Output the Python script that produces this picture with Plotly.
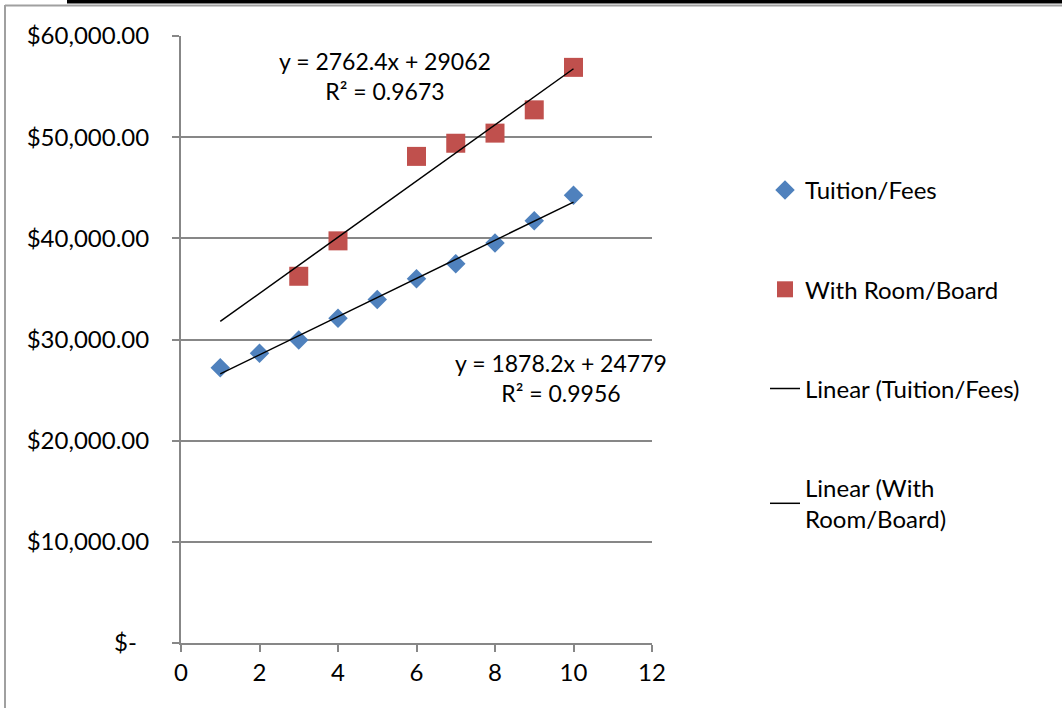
import numpy as np
import plotly.graph_objects as go

# ---- data ----
tuition_x = [1, 2, 3, 4, 5, 6, 7, 8, 9, 10]
tuition_y = [27200, 28650, 29950, 32100, 33950, 36000, 37500, 39550, 41750, 44250]
room_x = [3, 4, 6, 7, 8, 9, 10]
room_y = [36250, 39750, 48100, 49400, 50400, 52700, 56900]
trend_x = [1, 10]
eq_room = ["y = 2762.4x + 29062", "R² = 0.9673"]
eq_tuition = ["y = 1878.2x + 24779", "R² = 0.9956"]
y_tickvals = [0, 10000, 20000, 30000, 40000, 50000, 60000]
y_ticktext = ["$-\u00a0\u00a0", "$10,000.00", "$20,000.00", "$30,000.00",
              "$40,000.00", "$50,000.00", "$60,000.00"]
x_tickvals = [0, 2, 4, 6, 8, 10, 12]

W, H = 1062, 708
ML, MR, MT, MB = 181, 410, 36, 65
FONT = "Lato"
FS = 24
BLUE = "#4F81BD"
RED = "#C0504D"
GRID = "#878787"

def fit_line(xs, ys):
    k, b = np.polyfit(xs, ys, 1)
    return [k * x + b for x in trend_x]

def px_x(p):
    return (p - ML) / (W - ML - MR)

def px_y(p):
    return (H - MB - p) / (H - MT - MB)

fig = go.Figure()
fig.add_trace(go.Scatter(x=tuition_x, y=tuition_y, mode="markers", name="Tuition/Fees",
                         legendgroup="a",
                         marker=dict(symbol="diamond", size=15, color=BLUE, line=dict(width=0))))
fig.add_trace(go.Scatter(x=room_x, y=room_y, mode="markers", name="With Room/Board",
                         legendgroup="b",
                         marker=dict(symbol="square", size=19, color=RED, line=dict(width=0))))
fig.add_trace(go.Scatter(x=trend_x, y=fit_line(tuition_x, tuition_y), mode="lines",
                         name="Linear (Tuition/Fees)", legendgroup="c",
                         line=dict(color="black", width=1.5)))
fig.add_trace(go.Scatter(x=trend_x, y=fit_line(room_x, room_y), mode="lines",
                         name="Linear (With<br>Room/Board)", legendgroup="d",
                         line=dict(color="black", width=1.5)))

fig.add_annotation(x=5.2, y=56050, xref="x", yref="y", text="<br>".join(eq_room),
                   showarrow=False, align="center", font=dict(family=FONT, size=23, color="black"))
fig.add_annotation(x=9.68, y=26190, xref="x", yref="y", text="<br>".join(eq_tuition),
                   showarrow=False, align="center", font=dict(family=FONT, size=23, color="black"))

# outer frame
fig.add_shape(type="line", xref="paper", yref="paper", x0=px_x(5), x1=px_x(W), y0=px_y(5.5), y1=px_y(5.5),
              line=dict(color="#A0A0A0", width=2))
fig.add_shape(type="line", xref="paper", yref="paper", x0=px_x(5), x1=px_x(5), y0=px_y(5), y1=px_y(H),
              line=dict(color="#A0A0A0", width=2))
fig.add_shape(type="rect", xref="paper", yref="paper", x0=px_x(67), x1=px_x(W), y0=px_y(0), y1=px_y(3.5),
              line=dict(width=0), fillcolor="black")

fig.update_layout(
    width=W, height=H,
    margin=dict(l=ML, r=MR, t=MT, b=MB),
    paper_bgcolor="white", plot_bgcolor="white",
    font=dict(family=FONT, size=FS, color="black"),
    legend=dict(x=px_x(765), y=px_y(168), xanchor="left", yanchor="top",
                tracegroupgap=65, font=dict(family=FONT, size=FS, color="black"),
                bgcolor="rgba(0,0,0,0)"),
    showlegend=True,
)
fig.update_xaxes(range=[0, 12], tickvals=x_tickvals, showgrid=False, zeroline=False,
                 showline=True, linecolor=GRID, linewidth=2, ticks="outside", ticklen=7,
                 tickcolor=GRID, tickwidth=2, tickfont=dict(family=FONT, size=FS))
fig.update_yaxes(range=[0, 60000], tickvals=y_tickvals, ticktext=y_ticktext, showgrid=True,
                 gridcolor=GRID, gridwidth=2, zeroline=False, showline=True, linecolor=GRID,
                 linewidth=2, ticks="outside", ticklen=7, tickcolor=GRID, tickwidth=2,
                 ticklabelstandoff=18, tickfont=dict(family=FONT, size=FS))

fig.write_html("out.html", config={"displayModeBar": False},
               post_script="document.body.style.margin='0';document.body.style.overflow='hidden';")
